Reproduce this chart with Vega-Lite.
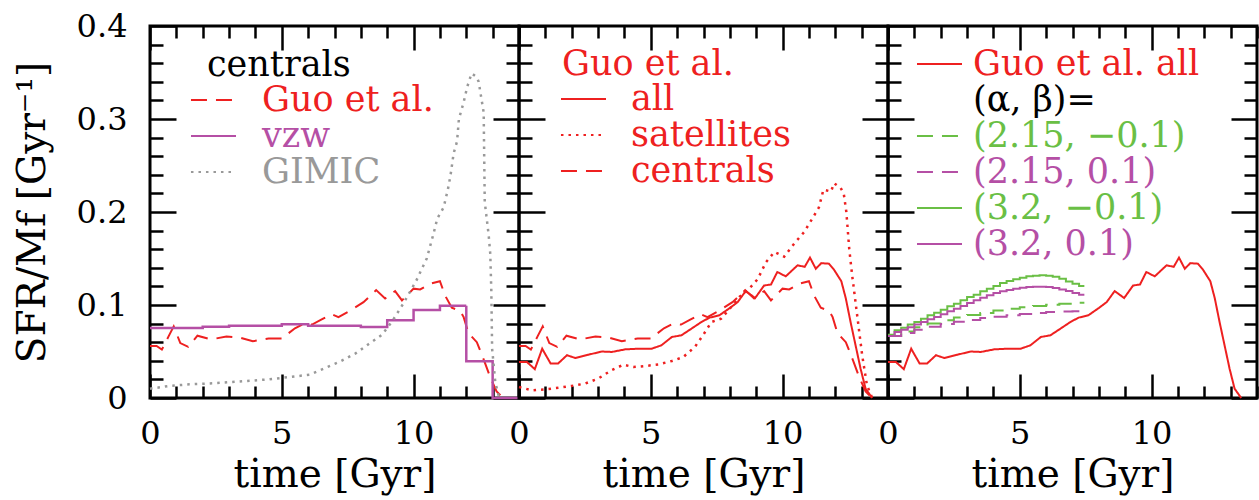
{
  "$schema": "https://vega.github.io/schema/vega-lite/v6.json",
  "background": "white",
  "padding": {"left": 11, "top": 8, "right": 4, "bottom": 8},
  "spacing": 0,
  "bounds": "flush",
  "config": {
    "font": "DejaVu Serif",
    "view": {"stroke": "black", "strokeWidth": 3},
    "axis": {
      "grid": false, "domain": false,
      "labelFont": "DejaVu Serif", "titleFont": "DejaVu Serif",
      "labelFontSize": 32, "titleFontSize": 39, "titleFontWeight": "normal",
      "labelColor": "black", "titleColor": "black",
      "tickColor": "black", "tickWidth": 2.5
    },
    "legend": {
      "labelFont": "DejaVu Serif", "titleFont": "DejaVu Serif",
      "labelFontSize": 35, "titleFontSize": 35, "titleFontWeight": "normal",
      "padding": 0, "symbolStrokeWidth": 2, "labelLimit": 400, "titleLimit": 400,
      "rowPadding": 0, "titlePadding": 0
    }
  },
  "resolve": {
    "scale": {"x": "independent", "y": "independent", "color": "independent", "strokeDash": "independent"},
    "legend": {"color": "independent", "strokeDash": "independent"}
  },
  "datasets": {
    "guoCentrals": [
      {"t": 0, "v": 0.056}, {"t": 0.25, "v": 0.056}, {"t": 0.45, "v": 0.052}, {"t": 0.7, "v": 0.066},
      {"t": 0.9, "v": 0.077}, {"t": 1.15, "v": 0.059}, {"t": 1.45, "v": 0.055}, {"t": 1.8, "v": 0.067},
      {"t": 2.3, "v": 0.063}, {"t": 2.9, "v": 0.066}, {"t": 3.4, "v": 0.065}, {"t": 3.9, "v": 0.061},
      {"t": 4.5, "v": 0.064}, {"t": 5.0, "v": 0.064}, {"t": 5.5, "v": 0.075}, {"t": 5.85, "v": 0.08},
      {"t": 6.15, "v": 0.079}, {"t": 6.55, "v": 0.085}, {"t": 6.9, "v": 0.09}, {"t": 7.15, "v": 0.087},
      {"t": 7.6, "v": 0.094}, {"t": 8.1, "v": 0.103}, {"t": 8.58, "v": 0.116}, {"t": 8.92, "v": 0.107},
      {"t": 9.3, "v": 0.115}, {"t": 9.56, "v": 0.105}, {"t": 10.0, "v": 0.1176}, {"t": 10.25, "v": 0.1168},
      {"t": 10.65, "v": 0.123}, {"t": 11.0, "v": 0.1256}, {"t": 11.2, "v": 0.11}, {"t": 11.45, "v": 0.097},
      {"t": 11.76, "v": 0.094}, {"t": 11.9, "v": 0.087}, {"t": 12.08, "v": 0.07}, {"t": 12.4, "v": 0.06},
      {"t": 12.68, "v": 0.04}, {"t": 12.9, "v": 0.023}, {"t": 13.15, "v": 0.007}, {"t": 13.4, "v": 0.0}
    ],
    "guoAll": [
      {"t": 0, "v": 0.0387}, {"t": 0.3, "v": 0.0387}, {"t": 0.6, "v": 0.031}, {"t": 0.88, "v": 0.053},
      {"t": 1.2, "v": 0.037}, {"t": 1.48, "v": 0.037}, {"t": 1.82, "v": 0.046}, {"t": 2.14, "v": 0.043},
      {"t": 2.64, "v": 0.0466}, {"t": 3.14, "v": 0.05}, {"t": 3.52, "v": 0.0495}, {"t": 4.03, "v": 0.0523},
      {"t": 4.53, "v": 0.053}, {"t": 5.03, "v": 0.053}, {"t": 5.4, "v": 0.0566}, {"t": 5.8, "v": 0.0656},
      {"t": 6.16, "v": 0.0674}, {"t": 6.54, "v": 0.0745}, {"t": 6.92, "v": 0.0817}, {"t": 7.23, "v": 0.0864},
      {"t": 7.6, "v": 0.0889}, {"t": 8.0, "v": 0.0968}, {"t": 8.3, "v": 0.1032}, {"t": 8.6, "v": 0.115},
      {"t": 8.96, "v": 0.1075}, {"t": 9.3, "v": 0.121}, {"t": 9.56, "v": 0.122}, {"t": 9.8, "v": 0.1355},
      {"t": 10.12, "v": 0.1308}, {"t": 10.57, "v": 0.1427}, {"t": 10.84, "v": 0.141}, {"t": 11.04, "v": 0.151},
      {"t": 11.26, "v": 0.139}, {"t": 11.47, "v": 0.145}, {"t": 11.76, "v": 0.1444}, {"t": 11.95, "v": 0.138},
      {"t": 12.23, "v": 0.1255}, {"t": 12.4, "v": 0.107}, {"t": 12.58, "v": 0.0817}, {"t": 12.77, "v": 0.0566},
      {"t": 12.96, "v": 0.0315}, {"t": 13.15, "v": 0.01}, {"t": 13.4, "v": 0.0}
    ],
    "guoSatellites": [
      {"t": 0, "v": 0.0118}, {"t": 0.5, "v": 0.0082}, {"t": 1.0, "v": 0.0093}, {"t": 1.5, "v": 0.011},
      {"t": 2.0, "v": 0.013}, {"t": 2.5, "v": 0.0154}, {"t": 3.0, "v": 0.0208}, {"t": 3.5, "v": 0.0297},
      {"t": 3.96, "v": 0.0358}, {"t": 4.34, "v": 0.0333}, {"t": 4.78, "v": 0.0344}, {"t": 5.28, "v": 0.036},
      {"t": 5.8, "v": 0.0398}, {"t": 6.23, "v": 0.044}, {"t": 6.67, "v": 0.0548}, {"t": 6.98, "v": 0.0674},
      {"t": 7.3, "v": 0.0817}, {"t": 7.67, "v": 0.0853}, {"t": 8.05, "v": 0.0978}, {"t": 8.36, "v": 0.1086},
      {"t": 8.68, "v": 0.1158}, {"t": 9.06, "v": 0.128}, {"t": 9.37, "v": 0.146}, {"t": 9.69, "v": 0.157},
      {"t": 10.06, "v": 0.152}, {"t": 10.44, "v": 0.166}, {"t": 10.82, "v": 0.1785}, {"t": 11.13, "v": 0.193},
      {"t": 11.38, "v": 0.205}, {"t": 11.55, "v": 0.224}, {"t": 11.84, "v": 0.222}, {"t": 11.95, "v": 0.231},
      {"t": 12.2, "v": 0.226}, {"t": 12.32, "v": 0.22}, {"t": 12.42, "v": 0.2}, {"t": 12.53, "v": 0.16},
      {"t": 12.64, "v": 0.132}, {"t": 12.83, "v": 0.089}, {"t": 13.02, "v": 0.046}, {"t": 13.2, "v": 0.014},
      {"t": 13.4, "v": 0.0}
    ],
    "gimic": [
      {"t": 0, "v": 0.01}, {"t": 0.75, "v": 0.013}, {"t": 1.5, "v": 0.0147}, {"t": 2.5, "v": 0.016},
      {"t": 3.5, "v": 0.018}, {"t": 4.5, "v": 0.02}, {"t": 5.3, "v": 0.0226}, {"t": 6.05, "v": 0.025},
      {"t": 6.55, "v": 0.031}, {"t": 7.2, "v": 0.039}, {"t": 7.8, "v": 0.048}, {"t": 8.3, "v": 0.058},
      {"t": 8.8, "v": 0.068}, {"t": 9.2, "v": 0.083}, {"t": 9.6, "v": 0.101}, {"t": 10.1, "v": 0.126},
      {"t": 10.5, "v": 0.15}, {"t": 10.76, "v": 0.177}, {"t": 10.9, "v": 0.193}, {"t": 11.14, "v": 0.205},
      {"t": 11.3, "v": 0.224}, {"t": 11.4, "v": 0.239}, {"t": 11.52, "v": 0.263}, {"t": 11.65, "v": 0.276},
      {"t": 11.72, "v": 0.3}, {"t": 11.9, "v": 0.318}, {"t": 12.03, "v": 0.334}, {"t": 12.2, "v": 0.349},
      {"t": 12.4, "v": 0.345}, {"t": 12.47, "v": 0.34}, {"t": 12.66, "v": 0.307}, {"t": 12.7, "v": 0.211},
      {"t": 12.85, "v": 0.175}, {"t": 12.91, "v": 0.155}, {"t": 12.95, "v": 0.115}, {"t": 12.98, "v": 0.053},
      {"t": 13.1, "v": 0.017}, {"t": 13.25, "v": 0.0}
    ],
    "vzw": [
      {"t": 0, "v": 0.0753}, {"t": 1, "v": 0.0753}, {"t": 2, "v": 0.0767}, {"t": 3, "v": 0.0778},
      {"t": 4, "v": 0.0778}, {"t": 5, "v": 0.0792}, {"t": 6, "v": 0.0778}, {"t": 7, "v": 0.0778},
      {"t": 8, "v": 0.0763}, {"t": 9, "v": 0.0835}, {"t": 10, "v": 0.0946}, {"t": 11, "v": 0.0993},
      {"t": 12, "v": 0.0394}, {"t": 13, "v": 0.0}, {"t": 14, "v": 0.0}
    ],
    "m32neg": [
      {"t": 0, "v": 0.0681}, {"t": 0.25, "v": 0.0728}, {"t": 0.5, "v": 0.0756}, {"t": 0.75, "v": 0.0789},
      {"t": 1.0, "v": 0.0817}, {"t": 1.25, "v": 0.0853}, {"t": 1.5, "v": 0.0889}, {"t": 1.75, "v": 0.0918},
      {"t": 2.0, "v": 0.095}, {"t": 2.25, "v": 0.0986}, {"t": 2.5, "v": 0.1014}, {"t": 2.75, "v": 0.105},
      {"t": 3.0, "v": 0.1086}, {"t": 3.25, "v": 0.1111}, {"t": 3.5, "v": 0.1147}, {"t": 3.75, "v": 0.1176},
      {"t": 4.0, "v": 0.1204}, {"t": 4.25, "v": 0.1237}, {"t": 4.5, "v": 0.1258}, {"t": 4.75, "v": 0.1276},
      {"t": 5.0, "v": 0.1294}, {"t": 5.25, "v": 0.1308}, {"t": 5.5, "v": 0.1315}, {"t": 5.75, "v": 0.1319},
      {"t": 6.0, "v": 0.1315}, {"t": 6.25, "v": 0.1305}, {"t": 6.5, "v": 0.1283}, {"t": 6.75, "v": 0.1254},
      {"t": 7.0, "v": 0.1229}, {"t": 7.25, "v": 0.1204}, {"t": 7.45, "v": 0.1204}
    ],
    "m32pos": [
      {"t": 0, "v": 0.0667}, {"t": 0.25, "v": 0.071}, {"t": 0.5, "v": 0.0735}, {"t": 0.75, "v": 0.076},
      {"t": 1.0, "v": 0.0789}, {"t": 1.25, "v": 0.0817}, {"t": 1.5, "v": 0.0846}, {"t": 1.75, "v": 0.0871},
      {"t": 2.0, "v": 0.09}, {"t": 2.25, "v": 0.0932}, {"t": 2.5, "v": 0.0961}, {"t": 2.75, "v": 0.0989},
      {"t": 3.0, "v": 0.1022}, {"t": 3.25, "v": 0.105}, {"t": 3.5, "v": 0.1079}, {"t": 3.75, "v": 0.1104},
      {"t": 4.0, "v": 0.1129}, {"t": 4.25, "v": 0.1147}, {"t": 4.5, "v": 0.1161}, {"t": 4.75, "v": 0.1176},
      {"t": 5.0, "v": 0.1186}, {"t": 5.25, "v": 0.1194}, {"t": 5.5, "v": 0.1197}, {"t": 5.75, "v": 0.1197},
      {"t": 6.0, "v": 0.1194}, {"t": 6.25, "v": 0.1183}, {"t": 6.5, "v": 0.1168}, {"t": 6.75, "v": 0.1151},
      {"t": 7.0, "v": 0.1129}, {"t": 7.25, "v": 0.1111}, {"t": 7.45, "v": 0.1111}
    ],
    "m215neg": [
      {"t": 0, "v": 0.0667}, {"t": 0.5, "v": 0.0715}, {"t": 1.0, "v": 0.076}, {"t": 1.5, "v": 0.08},
      {"t": 2.0, "v": 0.0835}, {"t": 2.5, "v": 0.0865}, {"t": 3.0, "v": 0.0893}, {"t": 3.5, "v": 0.0915},
      {"t": 4.0, "v": 0.094}, {"t": 4.5, "v": 0.096}, {"t": 5.0, "v": 0.0975}, {"t": 5.5, "v": 0.099},
      {"t": 6.0, "v": 0.1004}, {"t": 6.5, "v": 0.1014}, {"t": 7.0, "v": 0.1025}, {"t": 7.45, "v": 0.1025}
    ],
    "m215pos": [
      {"t": 0, "v": 0.0667}, {"t": 0.5, "v": 0.07}, {"t": 1.0, "v": 0.0735}, {"t": 1.5, "v": 0.0765},
      {"t": 2.0, "v": 0.0795}, {"t": 2.5, "v": 0.082}, {"t": 3.0, "v": 0.084}, {"t": 3.5, "v": 0.086},
      {"t": 4.0, "v": 0.0875}, {"t": 4.5, "v": 0.089}, {"t": 5.0, "v": 0.0902}, {"t": 5.5, "v": 0.0915},
      {"t": 6.0, "v": 0.0925}, {"t": 6.5, "v": 0.093}, {"t": 7.0, "v": 0.0932}, {"t": 7.45, "v": 0.0932}
    ]
  },
  "hconcat": [
    {
      "width": 369, "height": 372,
      "resolve": {"axis": {"x": "independent", "y": "independent"}},
      "layer": [
        {
          "data": {"name": "guoCentrals"},
          "mark": {"type": "line", "strokeWidth": 2},
          "encoding": {
            "x": {"field": "t", "type": "quantitative", "scale": {"domain": [0, 14], "nice": false, "zero": false},
              "axis": {"orient": "bottom", "values": [0, 5, 10], "ticks": false, "labelPadding": 20, "labelFlush": false, "labelOverlap": false, "title": "time [Gyr]", "titlePadding": 6}},
            "y": {"field": "v", "type": "quantitative", "scale": {"domain": [0, 0.4], "nice": false, "zero": false},
              "axis": {"orient": "left", "values": [0, 0.1, 0.2, 0.3, 0.4], "format": "~g", "ticks": false, "labelPadding": 23, "labelFlush": false, "labelOverlap": false, "title": "SFR/Mf [Gyr⁻¹]", "titlePadding": 24}},
            "color": {"datum": "Guo et al.", "type": "nominal",
              "scale": {"domain": ["Guo et al.", "vzw", "GIMIC"], "range": ["#ee2020", "#b54fa5", "#999999"]},
              "legend": {"orient": "none", "legendX": 57, "legendY": 21.5, "title": "centrals", "titleColor": "black", "symbolType": "M-4.47,0H1.53", "symbolSize": 225, "labelOffset": 20,
                "encode": {"labels": {"update": {"fill": {"signal": "datum.value === 'Guo et al.' ? '#ee2020' : datum.value === 'vzw' ? '#b54fa5' : '#999999'"}}}}}},
            "strokeDash": {"datum": "Guo et al.", "type": "nominal",
              "scale": {"domain": ["Guo et al.", "vzw", "GIMIC"], "range": [[16, 9], [1, 0], [2.5, 5]]},
              "legend": {"orient": "none", "legendX": 57, "legendY": 21.5, "title": "centrals", "titleColor": "black", "symbolType": "M-4.47,0H1.53", "symbolSize": 225, "labelOffset": 20,
                "encode": {"labels": {"update": {"fill": {"signal": "datum.value === 'Guo et al.' ? '#ee2020' : datum.value === 'vzw' ? '#b54fa5' : '#999999'"}}}}}}
          }
        },
        {
          "data": {"name": "vzw"},
          "mark": {"type": "line", "interpolate": "step-after", "strokeWidth": 2.5},
          "encoding": {
            "x": {"field": "t", "type": "quantitative", "axis": null},
            "y": {"field": "v", "type": "quantitative", "axis": null},
            "color": {"datum": "vzw", "type": "nominal", "legend": null},
            "strokeDash": {"datum": "vzw", "type": "nominal", "legend": null}
          }
        },
        {
          "data": {"name": "gimic"},
          "mark": {"type": "line", "strokeWidth": 2.5},
          "encoding": {
            "x": {"field": "t", "type": "quantitative", "axis": null},
            "y": {"field": "v", "type": "quantitative", "axis": null},
            "color": {"datum": "GIMIC", "type": "nominal", "legend": null},
            "strokeDash": {"datum": "GIMIC", "type": "nominal", "legend": null}
          }
        },
        {
          "data": {"name": "vzw"},
          "mark": {"type": "point", "opacity": 0},
          "encoding": {
            "x": {"field": "t", "type": "quantitative",
              "axis": {"orient": "bottom", "values": [0, 1, 2, 3, 4, 5, 6, 7, 8, 9, 10, 11, 12, 13, 14], "labels": false, "title": null,
                "tickSize": {"condition": {"test": "datum.value % 5 === 0", "value": -24}, "value": -12}}},
            "y": {"field": "v", "type": "quantitative",
              "axis": {"orient": "left", "values": [0, 0.02, 0.04, 0.06, 0.08, 0.1, 0.12, 0.14, 0.16, 0.18, 0.2, 0.22, 0.24, 0.26, 0.28, 0.3, 0.32, 0.34, 0.36, 0.38, 0.4], "labels": false, "title": null,
                "tickSize": {"condition": {"test": "abs(datum.value * 10 - round(datum.value * 10)) < 0.001", "value": -26}, "value": -13}}}
          }
        },
        {
          "data": {"name": "vzw"},
          "mark": {"type": "point", "opacity": 0},
          "encoding": {
            "x": {"field": "t", "type": "quantitative",
              "axis": {"orient": "top", "values": [0, 1, 2, 3, 4, 5, 6, 7, 8, 9, 10, 11, 12, 13, 14], "labels": false, "title": null,
                "tickSize": {"condition": {"test": "datum.value % 5 === 0", "value": -24}, "value": -12}}},
            "y": {"field": "v", "type": "quantitative",
              "axis": {"orient": "right", "values": [0, 0.02, 0.04, 0.06, 0.08, 0.1, 0.12, 0.14, 0.16, 0.18, 0.2, 0.22, 0.24, 0.26, 0.28, 0.3, 0.32, 0.34, 0.36, 0.38, 0.4], "labels": false, "title": null,
                "tickSize": {"condition": {"test": "abs(datum.value * 10 - round(datum.value * 10)) < 0.001", "value": -26}, "value": -13}}}
          }
        }
      ]
    },
    {
      "width": 369, "height": 372,
      "resolve": {"axis": {"x": "independent", "y": "independent"}},
      "layer": [
        {
          "data": {"name": "guoAll"},
          "mark": {"type": "line", "strokeWidth": 2},
          "encoding": {
            "x": {"field": "t", "type": "quantitative", "scale": {"domain": [0, 14], "nice": false, "zero": false},
              "axis": {"orient": "bottom", "values": [0, 5, 10], "ticks": false, "labelPadding": 20, "labelFlush": false, "labelOverlap": false, "title": "time [Gyr]", "titlePadding": 6}},
            "y": {"field": "v", "type": "quantitative", "scale": {"domain": [0, 0.4], "nice": false, "zero": false}, "axis": null},
            "color": {"datum": "all", "type": "nominal",
              "scale": {"domain": ["all", "satellites", "centrals"], "range": ["#ee2020", "#ee2020", "#ee2020"]},
              "legend": {"orient": "none", "legendX": 43, "legendY": 20.5, "title": "Guo et al.", "titleColor": "#ee2020", "labelColor": "#ee2020", "symbolType": "M-2.47,0H3.53", "symbolSize": 225, "labelOffset": 34}},
            "strokeDash": {"datum": "all", "type": "nominal",
              "scale": {"domain": ["all", "satellites", "centrals"], "range": [[1, 0], [2.5, 5], [16, 9]]},
              "legend": {"orient": "none", "legendX": 43, "legendY": 20.5, "title": "Guo et al.", "titleColor": "#ee2020", "labelColor": "#ee2020", "symbolType": "M-2.47,0H3.53", "symbolSize": 225, "labelOffset": 34}}
          }
        },
        {
          "data": {"name": "guoSatellites"},
          "mark": {"type": "line", "strokeWidth": 2.5},
          "encoding": {
            "x": {"field": "t", "type": "quantitative", "axis": null},
            "y": {"field": "v", "type": "quantitative", "axis": null},
            "color": {"datum": "satellites", "type": "nominal", "legend": null},
            "strokeDash": {"datum": "satellites", "type": "nominal", "legend": null}
          }
        },
        {
          "data": {"name": "guoCentrals"},
          "mark": {"type": "line", "strokeWidth": 2},
          "encoding": {
            "x": {"field": "t", "type": "quantitative", "axis": null},
            "y": {"field": "v", "type": "quantitative", "axis": null},
            "color": {"datum": "centrals", "type": "nominal", "legend": null},
            "strokeDash": {"datum": "centrals", "type": "nominal", "legend": null}
          }
        },
        {
          "data": {"name": "vzw"},
          "mark": {"type": "point", "opacity": 0},
          "encoding": {
            "x": {"field": "t", "type": "quantitative",
              "axis": {"orient": "bottom", "values": [0, 1, 2, 3, 4, 5, 6, 7, 8, 9, 10, 11, 12, 13, 14], "labels": false, "title": null,
                "tickSize": {"condition": {"test": "datum.value % 5 === 0", "value": -24}, "value": -12}}},
            "y": {"field": "v", "type": "quantitative",
              "axis": {"orient": "left", "values": [0, 0.02, 0.04, 0.06, 0.08, 0.1, 0.12, 0.14, 0.16, 0.18, 0.2, 0.22, 0.24, 0.26, 0.28, 0.3, 0.32, 0.34, 0.36, 0.38, 0.4], "labels": false, "title": null,
                "tickSize": {"condition": {"test": "abs(datum.value * 10 - round(datum.value * 10)) < 0.001", "value": -26}, "value": -13}}}
          }
        },
        {
          "data": {"name": "vzw"},
          "mark": {"type": "point", "opacity": 0},
          "encoding": {
            "x": {"field": "t", "type": "quantitative",
              "axis": {"orient": "top", "values": [0, 1, 2, 3, 4, 5, 6, 7, 8, 9, 10, 11, 12, 13, 14], "labels": false, "title": null,
                "tickSize": {"condition": {"test": "datum.value % 5 === 0", "value": -24}, "value": -12}}},
            "y": {"field": "v", "type": "quantitative",
              "axis": {"orient": "right", "values": [0, 0.02, 0.04, 0.06, 0.08, 0.1, 0.12, 0.14, 0.16, 0.18, 0.2, 0.22, 0.24, 0.26, 0.28, 0.3, 0.32, 0.34, 0.36, 0.38, 0.4], "labels": false, "title": null,
                "tickSize": {"condition": {"test": "abs(datum.value * 10 - round(datum.value * 10)) < 0.001", "value": -26}, "value": -13}}}
          }
        }
      ]
    },
    {
      "width": 369, "height": 372,
      "resolve": {"axis": {"x": "independent", "y": "independent"}},
      "layer": [
        {
          "data": {"name": "guoAll"},
          "mark": {"type": "line", "strokeWidth": 2},
          "encoding": {
            "x": {"field": "t", "type": "quantitative", "scale": {"domain": [0, 14], "nice": false, "zero": false},
              "axis": {"orient": "bottom", "values": [0, 5, 10], "ticks": false, "labelPadding": 20, "labelFlush": false, "labelOverlap": false, "title": "time [Gyr]", "titlePadding": 6}},
            "y": {"field": "v", "type": "quantitative", "scale": {"domain": [0, 0.4], "nice": false, "zero": false}, "axis": null},
            "color": {"datum": "Guo et al. all", "type": "nominal",
              "scale": {"domain": ["Guo et al. all", "(α, β)=", "(2.15, −0.1)", "(2.15, 0.1)", "(3.2, −0.1)", "(3.2, 0.1)"],
                "range": ["#ee2020", "rgba(0,0,0,0)", "#6abf45", "#b54fa5", "#6abf45", "#b54fa5"]},
              "legend": {"orient": "none", "legendX": 30, "legendY": 20.5, "title": null, "symbolType": "M-2.47,0H3.53", "symbolSize": 225, "labelOffset": 20,
                "encode": {"labels": {"update": {"fill": {"signal": "datum.value === 'Guo et al. all' ? '#ee2020' : datum.value === '(α, β)=' ? 'black' : indexof(datum.value, '−0.1') >= 0 ? '#6abf45' : '#b54fa5'"}}}}}},
            "strokeDash": {"datum": "Guo et al. all", "type": "nominal",
              "scale": {"domain": ["Guo et al. all", "(α, β)=", "(2.15, −0.1)", "(2.15, 0.1)", "(3.2, −0.1)", "(3.2, 0.1)"],
                "range": [[1, 0], [1, 0], [16, 9], [16, 9], [1, 0], [1, 0]]},
              "legend": {"orient": "none", "legendX": 30, "legendY": 20.5, "title": null, "symbolType": "M-2.47,0H3.53", "symbolSize": 225, "labelOffset": 20,
                "encode": {"labels": {"update": {"fill": {"signal": "datum.value === 'Guo et al. all' ? '#ee2020' : datum.value === '(α, β)=' ? 'black' : indexof(datum.value, '−0.1') >= 0 ? '#6abf45' : '#b54fa5'"}}}}}}
          }
        },
        {
          "data": {"name": "m215neg"},
          "mark": {"type": "line", "interpolate": "step-after", "strokeWidth": 2},
          "encoding": {
            "x": {"field": "t", "type": "quantitative", "axis": null},
            "y": {"field": "v", "type": "quantitative", "axis": null},
            "color": {"datum": "(2.15, −0.1)", "type": "nominal", "legend": null},
            "strokeDash": {"datum": "(2.15, −0.1)", "type": "nominal", "legend": null}
          }
        },
        {
          "data": {"name": "m215pos"},
          "mark": {"type": "line", "interpolate": "step-after", "strokeWidth": 2},
          "encoding": {
            "x": {"field": "t", "type": "quantitative", "axis": null},
            "y": {"field": "v", "type": "quantitative", "axis": null},
            "color": {"datum": "(2.15, 0.1)", "type": "nominal", "legend": null},
            "strokeDash": {"datum": "(2.15, 0.1)", "type": "nominal", "legend": null}
          }
        },
        {
          "data": {"name": "m32neg"},
          "mark": {"type": "line", "interpolate": "step-after", "strokeWidth": 2},
          "encoding": {
            "x": {"field": "t", "type": "quantitative", "axis": null},
            "y": {"field": "v", "type": "quantitative", "axis": null},
            "color": {"datum": "(3.2, −0.1)", "type": "nominal", "legend": null},
            "strokeDash": {"datum": "(3.2, −0.1)", "type": "nominal", "legend": null}
          }
        },
        {
          "data": {"name": "m32pos"},
          "mark": {"type": "line", "interpolate": "step-after", "strokeWidth": 2},
          "encoding": {
            "x": {"field": "t", "type": "quantitative", "axis": null},
            "y": {"field": "v", "type": "quantitative", "axis": null},
            "color": {"datum": "(3.2, 0.1)", "type": "nominal", "legend": null},
            "strokeDash": {"datum": "(3.2, 0.1)", "type": "nominal", "legend": null}
          }
        },
        {
          "data": {"name": "vzw"},
          "mark": {"type": "point", "opacity": 0},
          "encoding": {
            "x": {"field": "t", "type": "quantitative",
              "axis": {"orient": "bottom", "values": [0, 1, 2, 3, 4, 5, 6, 7, 8, 9, 10, 11, 12, 13, 14], "labels": false, "title": null,
                "tickSize": {"condition": {"test": "datum.value % 5 === 0", "value": -24}, "value": -12}}},
            "y": {"field": "v", "type": "quantitative",
              "axis": {"orient": "left", "values": [0, 0.02, 0.04, 0.06, 0.08, 0.1, 0.12, 0.14, 0.16, 0.18, 0.2, 0.22, 0.24, 0.26, 0.28, 0.3, 0.32, 0.34, 0.36, 0.38, 0.4], "labels": false, "title": null,
                "tickSize": {"condition": {"test": "abs(datum.value * 10 - round(datum.value * 10)) < 0.001", "value": -26}, "value": -13}}}
          }
        },
        {
          "data": {"name": "vzw"},
          "mark": {"type": "point", "opacity": 0},
          "encoding": {
            "x": {"field": "t", "type": "quantitative",
              "axis": {"orient": "top", "values": [0, 1, 2, 3, 4, 5, 6, 7, 8, 9, 10, 11, 12, 13, 14], "labels": false, "title": null,
                "tickSize": {"condition": {"test": "datum.value % 5 === 0", "value": -24}, "value": -12}}},
            "y": {"field": "v", "type": "quantitative",
              "axis": {"orient": "right", "values": [0, 0.02, 0.04, 0.06, 0.08, 0.1, 0.12, 0.14, 0.16, 0.18, 0.2, 0.22, 0.24, 0.26, 0.28, 0.3, 0.32, 0.34, 0.36, 0.38, 0.4], "labels": false, "title": null,
                "tickSize": {"condition": {"test": "abs(datum.value * 10 - round(datum.value * 10)) < 0.001", "value": -26}, "value": -13}}}
          }
        }
      ]
    }
  ]
}
